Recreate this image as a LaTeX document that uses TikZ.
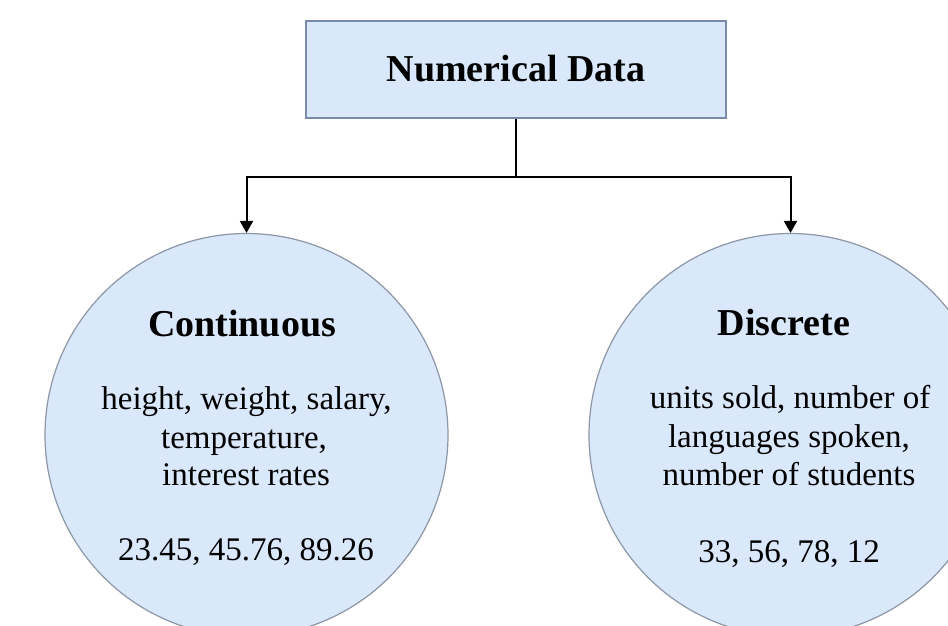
\documentclass[tikz,border=0pt]{standalone}
\usepackage{fontspec}
\setmainfont{Liberation Serif}
\usetikzlibrary{arrows.meta}

\definecolor{boxfill}{RGB}{218,232,252}
\definecolor{boxline}{RGB}{118,140,170}
\definecolor{ringline}{RGB}{140,150,165}

\tikzset{
  headbox/.style={draw=boxline,line width=1.2pt,fill=boxfill,minimum width=210pt,minimum height=48.5pt,inner sep=0pt},
  classring/.style={circle,draw=ringline,line width=0.6pt,fill=boxfill,minimum size=201.5pt,inner sep=0pt},
  headtext/.style={font=\fontsize{19}{22}\selectfont\bfseries,inner sep=0.75pt,anchor=base},
  bodytext/.style={font=\fontsize{16.5}{19}\selectfont,inner sep=0.75pt,anchor=base},
  link/.style={line width=1pt,draw=black},
  linkarrow/.style={link,-{Triangle[width=6.5pt,length=6pt]}}
}

\begin{document}
\begin{tikzpicture}[x=0.5pt,y=0.5pt,yscale=-1,xscale=1]
\clip (0,0) rectangle (948,626);
\fill[white] (0,0) rectangle (948,626);

%Shape: Rectangle [id:numdata]
\node[headbox] (numdata) at (516,69.5) {};
% Text Node
\node[headtext] (numdatatxt) at (516,82) {Numerical Data};

%Shape: Circle [id:cont]
\node[classring] (cont) at (246.5,435) {};
%Shape: Circle [id:disc]
\node[classring] (disc) at (790.5,435) {};

%Straight Lines [id:split]
\coordinate (split) at (516,177);
\draw[link] (numdata.south) -- (split);
\draw[linkarrow] (split) -| (cont.north);
\draw[linkarrow] (split) -| (disc.north);

% Text Node
\node[headtext] (conttitle) at (242,336) {Continuous};
% Text Node
\node[bodytext] (contline1) at (246.5,409) {height, weight, salary,};
% Text Node
\node[bodytext] (contline2) at (244,448) {temperature,};
% Text Node
\node[bodytext] (contline3) at (246,485) {interest rates};
% Text Node
\node[bodytext] (contnums) at (246,560) {23.45, 45.76, 89.26};

% Text Node
\node[headtext] (disctitle) at (784,335) {Discrete};
% Text Node
\node[bodytext] (discline1) at (790,408) {units sold, number of};
% Text Node
\node[bodytext] (discline2) at (789,447) {languages spoken,};
% Text Node
\node[bodytext] (discline3) at (789,485) {number of students};
% Text Node
\node[bodytext] (discnums) at (789,562) {33, 56, 78, 12};
\end{tikzpicture}
\end{document}
